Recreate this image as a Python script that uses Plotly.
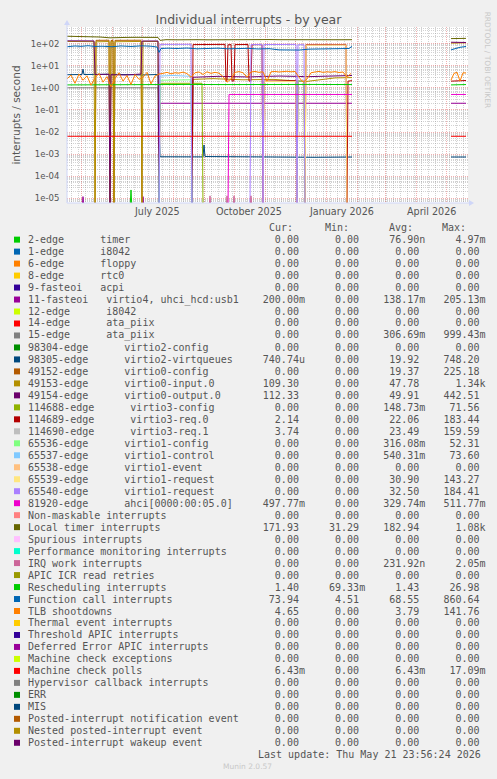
import plotly.graph_objects as go
import pandas as pd

# ---------------- data ----------------
Z = 0.0          # zero sample (drawn clipped below the axis, as rrdtool does on log scale)
GAPV = None      # no data

# Local timer interrupts
LOC_D = ["2025-04-17","2025-04-25","2025-05-05","2025-05-14","2025-05-20","2025-05-30","2025-06-05","2025-06-15",
         "2025-06-25","2025-07-05","2025-07-12","2025-07-17","2025-07-19","2025-07-25","2025-08-05","2025-08-15",
         "2025-08-25","2025-09-05","2025-09-15","2025-09-25","2025-10-05","2025-10-15","2025-10-25","2025-11-05",
         "2025-11-15","2025-11-25","2025-12-05","2025-12-15","2025-12-25","2026-01-05","2026-01-15","2026-01-27",
         "2026-03-01","2026-05-06","2026-05-12","2026-05-21"]
LOC_V = [215,212,208,204,198,182,188,190,192,196,198,190,140,150,148,152,150,148,150,152,149,151,150,152,
         150,148,151,150,152,150,149,150,GAPV,168,165,172]

# Function call interrupts
FC_D = ["2025-04-17","2025-04-25","2025-05-01","2025-05-08","2025-05-15","2025-05-22","2025-06-01","2025-06-10",
        "2025-06-20","2025-07-01","2025-07-10","2025-07-16","2025-07-18","2025-07-20","2025-07-27","2025-08-05",
        "2025-08-15","2025-08-25","2025-09-05","2025-09-15","2025-09-25","2025-10-05","2025-10-15","2025-10-25",
        "2025-11-05","2025-11-15","2025-11-25","2025-12-05","2025-12-15","2025-12-25","2026-01-05","2026-01-15",
        "2026-01-24","2026-01-27","2026-03-01","2026-05-06","2026-05-10","2026-05-15","2026-05-21"]
FC_V = [72,78,75,80,74,76,72,78,74,79,76,70,40,60,62,60,63,58,60,62,58,60,61,57,59,52,50,51,56,57,55,58,
        60,75,GAPV,52,60,68,74]

# Rescheduling interrupts
RES_D = ["2025-04-17","2025-05-15","2025-06-15","2025-07-17","2025-07-19","2025-08-20","2025-09-20","2025-10-20",
         "2025-11-20","2025-12-20","2026-01-27","2026-03-01","2026-05-06","2026-05-21"]
RES_V = [1.35,1.38,1.33,1.36,1.45,1.42,1.40,1.43,1.38,1.42,1.40,GAPV,1.35,1.40]

# TLB shootdowns, sampled every 4 days from 2025-04-17, then the May 2026 tail
TLB_START = "2025-04-17"
TLB_STEP_DAYS = 4
TLB_V = [2.5,3.8,1.6,4.2,2.2,3.5,1.3,2.8,4.5,1.8,3.2,1.1,2.6,4.8,2.0,3.6,1.4,4.0,2.4,3.0,5.0,1.5,3.4,4.2,
         4.5,5.0,4.3,4.8,4.6,5.1,4.4,3.0,4.8,5.2,4.0,5.3,4.5,5.0,4.6,3.2,1.8,2.5,5.0,5.4,4.8,3.0,5.2,5.5,
         5.0,5.3,2.0,5.3,5.5,5.2,5.4,5.6,5.3,5.5,3.0,1.8,2.5,4.8,5.2,5.5,5.0,5.3,5.1,5.4,4.9,5.2,3.0,4.5]
TLB_TAIL_D = ["2026-05-06","2026-05-09","2026-05-12","2026-05-15","2026-05-18","2026-05-21"]
TLB_TAIL_V = [2.2,4.5,5.0,2.0,4.8,4.65]

# 2-edge timer
T2_D = ["2025-04-17","2025-06-19","2025-06-20","2025-06-21","2026-01-27","2026-03-01","2026-05-06","2026-05-21"]
T2_V = [Z,Z,2.4e-5,Z,Z,GAPV,Z,Z]

# 11-fasteoi virtio4, uhci_hcd:usb1
F11_D = ["2025-04-17","2025-05-02","2025-05-03","2025-05-04","2025-05-29","2025-05-30","2025-05-31","2025-07-01",
         "2025-07-02","2025-07-03","2025-07-18","2025-07-19","2026-01-27","2026-03-01","2026-05-06","2026-05-21"]
F11_V = [Z,Z,1.2e-5,Z,Z,1.1e-5,Z,Z,1.2e-5,Z,Z,0.2,0.2,GAPV,0.2,0.2]

# 15-edge ata_piix
E15_D = ["2025-04-17","2025-07-17","2025-07-18","2026-01-27"]
E15_V = [1.0,1.0,Z,Z]

# 98305-edge virtio2-virtqueues
V2Q_D = ["2025-04-17","2025-05-02","2025-05-03","2025-05-04","2025-06-01","2025-07-01","2025-07-17","2025-07-19",
         "2025-08-31","2025-09-01","2025-09-02","2025-10-15","2025-11-20","2025-12-20","2026-01-27","2026-03-01",
         "2026-05-06","2026-05-21"]
V2Q_V = [3.9,4.0,7.0,4.0,4.1,3.8,4.0,7.6e-4,7.5e-4,2.6e-3,7.8e-4,7.4e-4,7.6e-4,7.2e-4,7.4e-4,GAPV,7.4e-4,7.4e-4]

# 49152-edge virtio0-config
V0C_D = ["2025-04-17","2025-05-15","2025-05-16","2025-05-29","2025-05-30","2025-05-31","2025-06-02","2025-06-03",
         "2025-06-04","2025-06-30","2025-07-01","2026-01-27"]
V0C_V = [Z,Z,140,142,Z,138,140,Z,140,142,Z,Z]

# 49153-edge virtio0-input.0
V0I_D = ["2025-04-17","2025-05-14","2025-05-15","2025-05-16","2025-05-29","2025-05-30","2025-05-31","2025-06-02",
         "2025-06-03","2025-06-04","2025-06-30","2025-07-01","2025-07-02","2025-07-17","2025-07-18","2025-08-20",
         "2025-08-21","2025-09-10","2025-10-10","2025-11-10","2025-12-11","2025-12-25","2026-01-10","2026-01-27",
         "2026-03-01","2026-05-06","2026-05-21"]
V0I_V = [125,122,Z,120,124,Z,122,123,Z,121,125,Z,126,124,Z,Z,2.4,2.6,2.3,2.4,1.9,2.3,2.8,2.9,GAPV,105,109]

# 49154-edge virtio0-output.0
V0O_D = ["2025-04-17","2025-04-30","2025-05-14","2025-05-15","2025-05-29","2025-05-30","2025-05-31",
         "2025-06-15","2025-06-30","2025-07-01","2025-07-10","2025-07-17","2025-07-18","2025-08-20",
         "2025-08-21","2025-09-15","2025-10-15","2025-11-15","2025-12-15","2026-01-10","2026-01-27","2026-03-01",
         "2026-05-06","2026-05-21"]
V0O_V = [133,136,132,4.0,4.1,Z,3.9,3.8,4.2,130,135,131,Z,Z,3.0,3.3,3.1,3.4,3.2,3.5,3.6,GAPV,115,112]

# 114688-edge virtio3-config
V3C_D = ["2025-07-18","2025-07-19","2025-08-30","2025-08-31","2026-01-27"]
V3C_V = [Z,1.6,1.6,Z,Z]

# 114689-edge virtio3-req.0
V3R0_D = ["2025-08-20","2025-08-21","2025-09-22","2025-09-23","2025-09-24","2025-09-25","2025-09-28","2025-09-29",
          "2025-10-01","2025-10-02","2025-10-15","2025-10-16","2025-10-18","2025-10-19","2025-10-29","2025-10-30",
          "2025-10-31","2025-12-02","2025-12-03","2025-12-04","2025-12-10","2025-12-11","2025-12-12","2026-01-21",
          "2026-01-22","2026-01-23","2026-01-27","2026-03-01","2026-05-06","2026-05-21"]
V3R0_V = [Z,90,92,2.0,2.1,88,90,2.0,2.1,90,91,2.0,2.1,89,90,Z,2.0,2.1,Z,2.0,2.0,Z,88,90,Z,2.0,2.1,GAPV,2.0,2.14]

# 65536-edge virtio1-config
V1C_D = ["2025-07-18","2025-07-19","2025-08-19","2025-08-20","2025-12-03","2025-12-04","2025-12-10","2025-12-11"]
V1C_V = [Z,2.2,2.3,Z,Z,2.0,2.0,Z]

# 65537-edge virtio1-control
V1K_D = ["2025-07-18","2025-07-19","2025-08-01","2025-08-19","2025-08-20"]
V1K_V = [Z,3.4,3.6,3.3,Z]

# 65539-edge virtio1-request
V1R1_D = ["2025-10-30","2025-10-31","2025-12-02","2025-12-03","2025-12-11","2025-12-12","2026-01-21","2026-01-22"]
V1R1_V = [Z,1.9,1.9,Z,Z,84,86,Z]

# 65540-edge virtio1-request
V1R2_D = ["2025-07-18","2025-07-19","2025-08-19","2025-08-20","2025-10-17","2025-10-18","2025-10-29","2025-10-30",
          "2025-10-31","2025-12-02","2025-12-03","2025-12-04","2025-12-10","2025-12-11","2026-01-21","2026-01-22"]
V1R2_V = [Z,92,93,Z,Z,90,91,Z,90,92,Z,88,89,Z,Z,Z]

# 81920-edge ahci
AHCI_D = ["2025-04-17","2025-09-25","2025-09-26","2026-01-27","2026-03-01","2026-05-06","2026-05-21"]
AHCI_V = [Z,Z,0.5,0.5,GAPV,0.5,0.5]

# IRQ work interrupts
IRQW_D = ["2025-09-06","2025-09-07","2025-09-08","2025-09-23","2025-09-24","2025-09-25","2025-09-30","2025-10-01",
          "2025-10-02","2025-10-17","2025-10-18","2025-10-19"]
IRQW_V = [Z,1.3e-5,Z,Z,1.3e-5,Z,Z,1.3e-5,Z,Z,1.3e-5,Z]

# Machine check polls
MCP_D = ["2025-04-17","2026-01-27","2026-03-01","2026-05-06","2026-05-21"]
MCP_V = [6.43e-3,6.43e-3,GAPV,6.43e-3,6.43e-3]

# ---------------- legend table ----------------
LEG_LABELS = ["2-edge      timer","1-edge      i8042","6-edge      floppy","8-edge      rtc0","9-fasteoi   acpi",
              "11-fasteoi   virtio4, uhci_hcd:usb1","12-edge      i8042","14-edge      ata_piix","15-edge      ata_piix",
              "98304-edge      virtio2-config","98305-edge      virtio2-virtqueues","49152-edge      virtio0-config",
              "49153-edge      virtio0-input.0","49154-edge      virtio0-output.0","114688-edge      virtio3-config",
              "114689-edge      virtio3-req.0","114690-edge      virtio3-req.1","65536-edge      virtio1-config",
              "65537-edge      virtio1-control","65538-edge      virtio1-event","65539-edge      virtio1-request",
              "65540-edge      virtio1-request","81920-edge      ahci[0000:00:05.0]","Non-maskable interrupts",
              "Local timer interrupts","Spurious interrupts","Performance monitoring interrupts","IRQ work interrupts",
              "APIC ICR read retries","Rescheduling interrupts","Function call interrupts","TLB shootdowns",
              "Thermal event interrupts","Threshold APIC interrupts","Deferred Error APIC interrupts",
              "Machine check exceptions","Machine check polls","Hypervisor callback interrupts","ERR","MIS",
              "Posted-interrupt notification event","Nested posted-interrupt event","Posted-interrupt wakeup event"]
LEG_COLORS = ["#00CC00","#0066B3","#FF8000","#FFCC00","#330099","#990099","#CCFF00","#FF0000","#808080",
              "#008F00","#00487D","#B35A00","#B38F00","#6B006B","#8FB300","#B30000","#BEBEBE","#80FF80",
              "#80C9FF","#FFC080","#FFE680","#AA80FF","#EE00CC","#FF8080","#666600","#FFBFFF","#00FFCC",
              "#CC6699","#999900","#00CC00","#0066B3","#FF8000","#FFCC00","#330099","#990099","#CCFF00",
              "#FF0000","#808080","#008F00","#00487D","#B35A00","#B38F00","#6B006B"]
CUR = ["0.00","0.00","0.00","0.00","0.00","200.00m","0.00","0.00","0.00","0.00","740.74u","0.00","109.30","112.33",
       "0.00","2.14","3.74","0.00","0.00","0.00","0.00","0.00","497.77m","0.00","171.93","0.00","0.00","0.00","0.00",
       "1.40","73.94","4.65","0.00","0.00","0.00","0.00","6.43m","0.00","0.00","0.00","0.00","0.00","0.00"]
MIN = ["0.00","0.00","0.00","0.00","0.00","0.00","0.00","0.00","0.00","0.00","0.00","0.00","0.00","0.00",
       "0.00","0.00","0.00","0.00","0.00","0.00","0.00","0.00","0.00","0.00","31.29","0.00","0.00","0.00","0.00",
       "69.33m","4.51","0.00","0.00","0.00","0.00","0.00","0.00","0.00","0.00","0.00","0.00","0.00","0.00"]
AVG = ["76.90n","0.00","0.00","0.00","0.00","138.17m","0.00","0.00","306.69m","0.00","19.92","19.37","47.78","49.91",
       "148.73m","22.06","23.49","316.08m","540.31m","0.00","30.90","32.50","329.74m","0.00","182.94","0.00","0.00",
       "231.92n","0.00","1.43","68.55","3.79","0.00","0.00","0.00","0.00","6.43m","0.00","0.00","0.00","0.00","0.00","0.00"]
MAX = ["4.97m","0.00","0.00","0.00","0.00","205.13m","0.00","0.00","999.43m","0.00","748.20","225.18","1.34k","442.51",
       "71.56","183.44","159.59","52.31","73.60","0.00","143.27","184.41","511.77m","0.00","1.08k","0.00","0.00",
       "2.05m","0.00","26.98","860.64","141.76","0.00","0.00","0.00","0.00","17.09m","0.00","0.00","0.00","0.00","0.00","0.00"]

MONTH_LABELS = ["July 2025","October 2025","January 2026","April 2026"]
MONTH_LABEL_DATES = ["2025-07-16","2025-10-16","2026-01-16","2026-04-16"]
Y_TICKS = [1e-5,1e-4,1e-3,1e-2,1e-1,1e0,1e1,1e2]
Y_TICKTEXT = ["1e-05","1e-04","1e-03","1e-02","1e-01","1e+00","1e+01","1e+02"]
MONTH_STARTS = ["2025-05-01","2025-06-01","2025-07-01","2025-08-01","2025-09-01","2025-10-01","2025-11-01",
                "2025-12-01","2026-01-01","2026-02-01","2026-03-01","2026-04-01","2026-05-01"]

# ---------------- geometry ----------------
W, H = 497, 779
PL, PR, PT, PB = 67, 468, 27, 203.3
PW, PH = PR - PL, PB - PT
Y_LOG_RANGE = [-5.21, 2.75]
FLOOR = 10 ** (Y_LOG_RANGE[0] - 0.3)
FONT = "#555555"
MINOR_GRID = "rgba(143,143,143,0.4)"
MAJOR_GRID = "rgba(222,79,79,0.45)"

def px(x):
    return (x - PL) / PW

def py(y):
    return (PB - y) / PH

def clean(vals):
    return [None if v is None else (FLOOR if v == 0 else v) for v in vals]

fig = go.Figure()

tlb_dates = list(pd.date_range(TLB_START, periods=len(TLB_V), freq=f"{TLB_STEP_DAYS}D").strftime("%Y-%m-%d"))

SERIES = [
    (T2_D, T2_V, "#00CC00"),
    (F11_D, F11_V, "#990099"),
    (E15_D, E15_V, "#808080"),
    (V2Q_D, V2Q_V, "#00487D"),
    (V0C_D, V0C_V, "#B35A00"),
    (V0I_D, V0I_V, "#B38F00"),
    (V0O_D, V0O_V, "#6B006B"),
    (V3C_D, V3C_V, "#8FB300"),
    (V3R0_D, V3R0_V, "#B30000"),
    (V1C_D, V1C_V, "#80FF80"),
    (V1K_D, V1K_V, "#80C9FF"),
    (V1R1_D, V1R1_V, "#FFE680"),
    (V1R2_D, V1R2_V, "#AA80FF"),
    (AHCI_D, AHCI_V, "#EE00CC"),
    (LOC_D, LOC_V, "#666600"),
    (IRQW_D, IRQW_V, "#CC6699"),
    (RES_D, RES_V, "#00CC00"),
    (FC_D, FC_V, "#0066B3"),
    (tlb_dates + ["2026-03-01"] + TLB_TAIL_D, TLB_V + [GAPV] + TLB_TAIL_V, "#FF8000"),
    (MCP_D, MCP_V, "#FF0000"),
]
for d, v, c in SERIES:
    fig.add_trace(go.Scatter(x=d, y=clean(v), mode="lines", line=dict(color=c, width=1),
                             connectgaps=False, hoverinfo="skip", showlegend=False))

minor_y = [k * 10.0 ** e for e in range(-6, 3) for k in range(2, 10)]

fig.update_layout(
    width=W, height=H, margin=dict(l=PL, r=W - PR, t=PT, b=H - PB),
    paper_bgcolor="#F0F0F0", plot_bgcolor="#FFFFFF",
    font=dict(family="DejaVu Sans", size=10, color=FONT),
    showlegend=False,
    title=dict(text="Individual interrupts - by year", x=0.5, xanchor="center", y=1 - 19.3 / H, yanchor="middle",
               font=dict(family="DejaVu Sans", size=12.5, color=FONT)),
    xaxis=dict(type="date", range=["2025-04-17", "2026-05-23"], tickmode="array", tickvals=MONTH_STARTS,
               showticklabels=False, ticks="", showgrid=True, gridcolor=MAJOR_GRID, griddash="1px,1px",
               zeroline=False, showline=False,
               minor=dict(dtick=7 * 86400000, tick0="2025-04-21", showgrid=True,
                          gridcolor=MINOR_GRID, griddash="1px,1px", ticks="")),
    yaxis=dict(type="log", range=Y_LOG_RANGE, tickmode="array", tickvals=Y_TICKS, ticktext=Y_TICKTEXT,
               showgrid=True, gridcolor=MAJOR_GRID, griddash="1px,1px", zeroline=False, showline=False,
               ticks="outside", ticklen=5, tickcolor="rgba(0,0,0,0)", tickfont=dict(size=8.5, color=FONT),
               title=dict(text="interrupts / second", font=dict(size=10.5, color=FONT), standoff=8),
               minor=dict(tickmode="array", tickvals=minor_y, showgrid=True,
                          gridcolor=MINOR_GRID, griddash="1px,1px", ticks="")),
)

AX = "#CFD6F8"
shapes = []
shapes.append(dict(type="line", xref="paper", yref="paper", x0=0, x1=px(470), y0=0, y1=0,
                   line=dict(color=AX, width=1), layer="above"))
shapes.append(dict(type="line", xref="paper", yref="paper", x0=0, x1=0, y0=0, y1=py(24),
                   line=dict(color=AX, width=1), layer="above"))
shapes.append(dict(type="path", xref="paper", yref="paper",
                   path=f"M {px(469)},{py(PB-3)} L {px(474)},{py(PB)} L {px(469)},{py(PB+3)} Z",
                   fillcolor=AX, line=dict(color=AX, width=0), layer="above"))
shapes.append(dict(type="path", xref="paper", yref="paper",
                   path=f"M {px(PL-3)},{py(25)} L {px(PL)},{py(20)} L {px(PL+3)},{py(25)} Z",
                   fillcolor=AX, line=dict(color=AX, width=0), layer="above"))

ann = []
for t, dte in zip(MONTH_LABELS, MONTH_LABEL_DATES):
    ann.append(dict(text=t, x=dte, xref="x", y=py(211.7), yref="paper", showarrow=False,
                    xanchor="center", yanchor="middle", font=dict(family="DejaVu Sans", size=9.6, color=FONT)))

NB = "\u00a0"
LX = 26.3

def fmt(s):
    if s[-1].isalpha():
        return s.rjust(7)
    return s.rjust(6) + " "

for i, lab in enumerate(LEG_LABELS):
    yc = 240 + 12 * i
    row = lab.ljust(39) + fmt(CUR[i]) + "   " + fmt(MIN[i]) + "   " + fmt(AVG[i]) + "   " + fmt(MAX[i])
    ann.append(dict(text=row.replace(" ", NB), x=px(LX), xref="paper", y=py(yc), yref="paper", showarrow=False,
                    xanchor="left", yanchor="middle", font=dict(family="DejaVu Sans Mono", size=10, color=FONT)))
    shapes.append(dict(type="rect", xref="paper", yref="paper", x0=px(14), x1=px(20), y0=py(yc + 3), y1=py(yc - 3),
                       fillcolor=LEG_COLORS[i], line=dict(width=0)))

for t, xx in zip(["Cur:", "Min:", "Avg:", "Max:"], [266.7, 323, 386.7, 440]):
    ann.append(dict(text=t, x=px(xx), xref="paper", y=py(228.3), yref="paper", showarrow=False,
                    xanchor="left", yanchor="middle", font=dict(family="DejaVu Sans Mono", size=10, color=FONT)))

ann.append(dict(text="Last update: Thu May 21 23:56:24 2026".replace(" ", NB), x=px(482.5), xref="paper",
                y=py(755.3), yref="paper", showarrow=False, xanchor="right", yanchor="middle",
                font=dict(family="DejaVu Sans Mono", size=10, color=FONT)))
ann.append(dict(text="Munin 2.0.57", x=px(247.5), xref="paper", y=py(768), yref="paper", showarrow=False,
                xanchor="center", yanchor="middle", font=dict(family="DejaVu Sans", size=7.5, color="#C8C8C8")))
ann.append(dict(text="RRDTOOL / TOBI OETIKER", x=px(487.3), xref="paper", y=py(60), yref="paper", showarrow=False,
                textangle=90, xanchor="center", yanchor="middle",
                font=dict(family="DejaVu Sans", size=7.5, color="#C8C8C8")))

fig.update_layout(shapes=shapes, annotations=ann)
fig.write_html("out.html", config={"displayModeBar": False},
               post_script="document.body.style.margin='0';document.body.style.overflow='hidden';")
